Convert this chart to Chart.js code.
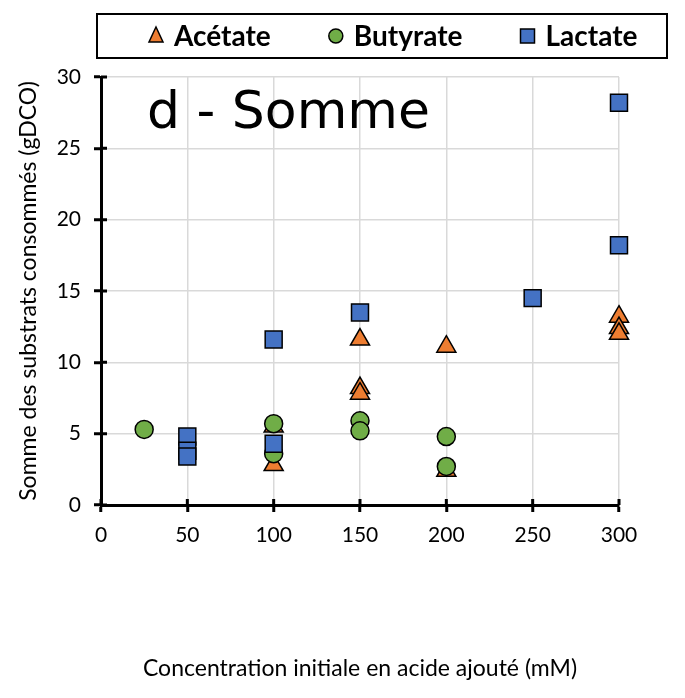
<!DOCTYPE html>
<html>
<head>
<meta charset="utf-8">
<script src="https://cdn.jsdelivr.net/npm/chart.js@4.4.1/dist/chart.umd.min.js"></script>
<style>
  body { margin: 0; background: #fff; }
</style>
</head>
<body>
<canvas id="sommeChart" width="685" height="698"></canvas>
<script>
  // concentrations (mM) and consumed substrate totals (gDCO)
  const seriesNames = ['Acétate', 'Butyrate', 'Lactate'];

  const acetateX = [100, 100, 150, 150, 150, 200, 200, 300, 300, 300];
  const acetateY = [2.8, 5.5, 11.6, 8.2, 7.8, 11.1, 2.4, 13.2, 12.4, 12.0];

  const butyrateX = [25, 100, 100, 150, 150, 200, 200];
  const butyrateY = [5.3, 5.7, 3.6, 5.9, 5.2, 4.8, 2.7];

  const lactateX = [50, 50, 50, 100, 100, 150, 250, 300, 300];
  const lactateY = [4.8, 3.8, 3.4, 11.6, 4.3, 13.5, 14.5, 28.2, 18.2];

  const xTicks = [0, 50, 100, 150, 200, 250, 300];
  const yTicks = [0, 5, 10, 15, 20, 25, 30];

  const colors = ['#ED7D31', '#70AD47', '#4472C4'];
  const styles = ['triangle', 'circle', 'rect'];
  const radii = [11, 9, 12];

  const pts = (xs, ys) => xs.map((x, i) => ({ x: x, y: ys[i] }));

  const tickFont = { family: 'Lato', size: 21 };
  const titleFont = { family: 'Lato', size: 23 };

  // boxed legend above the plot
  const legendBox = {
    id: 'legendBox',
    afterDraw(chart) {
      const ctx = chart.ctx;
      ctx.save();
      ctx.lineWidth = 2;
      ctx.strokeStyle = '#000';
      ctx.strokeRect(97, 14, 570, 44);

      ctx.font = 'bold 28px Lato';
      ctx.textBaseline = 'middle';
      let x = 149;
      const y = 36;
      seriesNames.forEach((name, i) => {
        ctx.fillStyle = colors[i];
        ctx.strokeStyle = '#000';
        ctx.lineWidth = 1.5;
        ctx.beginPath();
        if (styles[i] === 'triangle') {
          ctx.moveTo(x + 7, y - 9);
          ctx.lineTo(x + 14, y + 6);
          ctx.lineTo(x, y + 6);
          ctx.closePath();
        } else if (styles[i] === 'circle') {
          ctx.arc(x + 7, y, 7, 0, Math.PI * 2);
        } else {
          ctx.rect(x, y - 7, 14, 14);
        }
        ctx.fill();
        ctx.stroke();
        ctx.fillStyle = '#000';
        ctx.fillText(name, x + 25, y + 1);
        x += 25 + ctx.measureText(name).width + 58;
      });
      ctx.restore();
    }
  };

  // panel title inside the plot, behind the markers
  const panelTitle = {
    id: 'panelTitle',
    beforeDatasetsDraw(chart) {
      const ctx = chart.ctx;
      ctx.save();
      ctx.font = '52px "DejaVu Sans"';
      ctx.fillStyle = '#000';
      ctx.textBaseline = 'alphabetic';
      ctx.fillText('d - Somme', chart.chartArea.left + 46, chart.chartArea.top + 51);
      ctx.restore();
    }
  };

  // tick marks cross the axis lines
  const crossTicks = {
    id: 'crossTicks',
    afterDraw(chart) {
      const ctx = chart.ctx;
      const xs = chart.scales.x, ys = chart.scales.y;
      const a = chart.chartArea;
      ctx.save();
      ctx.strokeStyle = '#000';
      ctx.lineWidth = 3;
      ctx.beginPath();
      xTicks.forEach(v => {
        const px = xs.getPixelForValue(v);
        ctx.moveTo(px, a.bottom);
        ctx.lineTo(px, a.bottom - 6);
      });
      yTicks.forEach(v => {
        const py = ys.getPixelForValue(v);
        ctx.moveTo(a.left, py);
        ctx.lineTo(a.left + 6, py);
      });
      ctx.stroke();
      ctx.restore();
    }
  };

  const datasets = [acetateX, butyrateX, lactateX].map((xs, i) => ({
    label: seriesNames[i],
    data: pts(xs, [acetateY, butyrateY, lactateY][i]),
    pointStyle: styles[i],
    pointRadius: radii[i],
    pointBackgroundColor: colors[i],
    pointBorderColor: '#000',
    pointBorderWidth: 1.5,
    showLine: false,
    clip: false,
    order: 3 - i
  }));

  new Chart(document.getElementById('sommeChart'), {
    type: 'scatter',
    data: { datasets: datasets },
    options: {
      responsive: false,
      animation: false,
      events: [],
      layout: { padding: { top: 77, right: 66, left: 0, bottom: 0 } },
      plugins: {
        legend: { display: false },
        tooltip: { enabled: false }
      },
      scales: {
        x: {
          type: 'linear',
          min: 0,
          max: 300,
          afterBuildTicks: s => { s.ticks = xTicks.map(v => ({ value: v })); },
          afterFit: s => { s.height = 193; },
          ticks: { font: tickFont, color: '#000', padding: 11 },
          grid: { color: '#d9d9d9', lineWidth: 1.5, tickColor: '#000', tickWidth: 3, tickLength: 7 },
          border: { color: '#000', width: 3 },
          title: {
            display: true,
            text: 'Concentration initiale en acide ajouté (mM)',
            font: titleFont,
            color: '#000',
            padding: { top: 0, bottom: 16 }
          }
        },
        y: {
          type: 'linear',
          min: 0,
          max: 30,
          afterBuildTicks: s => { s.ticks = yTicks.map(v => ({ value: v })); },
          afterFit: s => { s.width = 101; },
          ticks: { font: tickFont, color: '#000', padding: 13 },
          grid: { color: '#d9d9d9', lineWidth: 1.5, tickColor: '#000', tickWidth: 3, tickLength: 7 },
          border: { color: '#000', width: 3 },
          title: {
            display: true,
            text: 'Somme des substrats consommés (gDCO)',
            font: titleFont,
            color: '#000',
            padding: { top: 15, bottom: 0 }
          }
        }
      }
    },
    plugins: [panelTitle, crossTicks, legendBox]
  });
</script>
</body>
</html>
